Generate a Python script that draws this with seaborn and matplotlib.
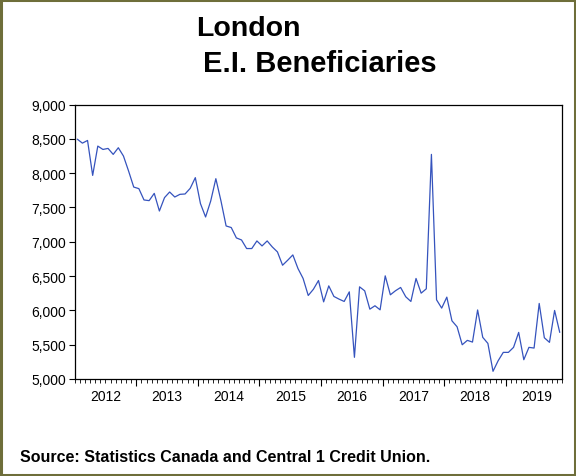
import numpy as np
import pandas as pd
import matplotlib
matplotlib.use("Agg")
import matplotlib.pyplot as plt
import matplotlib.ticker as mticker
from matplotlib.patches import Rectangle
import seaborn as sns

# ---- data (monthly, Jan 2012 - Nov 2019) ----
start_year = 2012
years = [2012, 2013, 2014, 2015, 2016, 2017, 2018, 2019]
beneficiaries = [
    8495, 8437, 8476, 7967, 8394, 8345, 8360, 8273, 8370, 8249, 8030, 7797,   # 2012
    7774, 7609, 7599, 7705, 7448, 7643, 7725, 7652, 7691, 7696, 7778, 7934,   # 2013
    7556, 7361, 7594, 7919, 7594, 7230, 7207, 7056, 7026, 6901, 6901, 7012,   # 2014
    6939, 7012, 6924, 6852, 6658, 6731, 6808, 6610, 6465, 6217, 6307, 6435,   # 2015
    6124, 6357, 6203, 6164, 6130, 6270, 5316, 6343, 6285, 6018, 6067, 6008,   # 2016
    6503, 6227, 6286, 6334, 6198, 6130, 6465, 6251, 6314, 8273, 6154, 6033,   # 2017
    6193, 5848, 5761, 5499, 5563, 5538, 6006, 5607, 5519, 5112, 5266, 5388,   # 2018
    5388, 5461, 5679, 5281, 5461, 5451, 6101, 5601, 5534, 5999, 5679,         # 2019
]
year_labels = [str(y) for y in years]
y_ticks = [5000, 5500, 6000, 6500, 7000, 7500, 8000, 8500, 9000]

n = len(beneficiaries)
t = start_year + (np.arange(n) + 0.5) / 12.0
df = pd.DataFrame({"t": t, "value": beneficiaries})

sns.set_theme(style="white")
plt.rcParams["font.family"] = ["Liberation Sans", "DejaVu Sans"]

fig = plt.figure(figsize=(5.76, 4.77), dpi=100)
ax = fig.add_axes([74.7 / 576, 1 - 380 / 477, (562.3 - 74.7) / 576, (380 - 105.5) / 477])

sns.lineplot(data=df, x="t", y="value", ax=ax, color="#3553bd", linewidth=0.9)

ax.set_xlim(start_year, start_year + n / 12.0)
ax.set_ylim(5000, 9000)
ax.set_xlabel("")
ax.set_ylabel("")

# y axis
ax.set_yticks(y_ticks)
ax.yaxis.set_major_formatter(mticker.FuncFormatter(lambda v, p: f"{int(v):,}"))
ax.tick_params(axis="y", which="major", direction="out", length=4, width=0.8,
               labelsize=10, colors="black", left=True, right=False, pad=2)

# x axis: year boundaries (major), months (minor), labels at mid-year
ax.set_xticks(years[1:])
ax.xaxis.set_major_formatter(mticker.NullFormatter())
ax.xaxis.set_minor_locator(mticker.MultipleLocator(1 / 12))
ax.tick_params(axis="x", which="major", direction="out", length=5, width=0.8,
               bottom=True, top=False, colors="black")
ax.tick_params(axis="x", which="minor", direction="out", length=3, width=0.6,
               bottom=True, top=False, colors="black")

sec = ax.secondary_xaxis("bottom")
sec.set_xticks([y + 0.5 for y in years])
sec.set_xticklabels(year_labels)
sec.tick_params(axis="x", length=0, labelsize=10, pad=7, colors="black")
sec.spines["bottom"].set_visible(False)

for s in ax.spines.values():
    s.set_visible(True)
    s.set_color("black")
    s.set_linewidth(0.9)
ax.grid(False)

# titles
fig.text(196 / 576, 1 - 36 / 477, "London", fontsize=20.5, fontweight="bold",
         ha="left", va="baseline", color="black")
fig.text(203 / 576, 1 - 72 / 477, "E.I. Beneficiaries", fontsize=21, fontweight="bold",
         ha="left", va="baseline", color="black")

# source
fig.text(20 / 576, 1 - 462 / 477, "Source: Statistics Canada and Central 1 Credit Union.",
         fontsize=11.5, fontweight="bold", ha="left", va="baseline", color="black")

# outer olive border
fig.patches.append(Rectangle((0.002, 0.002), 0.996, 0.996, transform=fig.transFigure,
                             fill=False, edgecolor="#6e6e3a", linewidth=2.2))

fig.savefig("out.png", dpi=100)
